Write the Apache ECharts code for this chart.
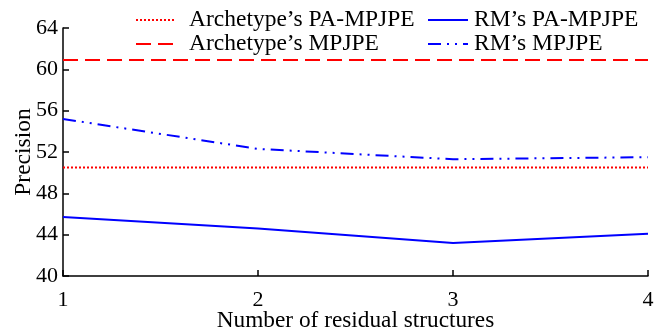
<!DOCTYPE html>
<html>
<head>
<meta charset="utf-8">
<script src="https://cdn.jsdelivr.net/npm/echarts@6/dist/echarts.min.js"></script>
<style>
  html, body { margin: 0; padding: 0; background: #fff; }
  #chart { width: 669px; height: 331px; }
</style>
</head>
<body>
<div id="chart"></div>
<script>
var xValues = [1, 2, 3, 4];
var archPaMpjpe = [50.5, 50.5, 50.5, 50.5];
var archMpjpe = [60.9, 60.9, 60.9, 60.9];
var rmPaMpjpe = [45.7, 44.6, 43.2, 44.1];
var rmMpjpe = [55.2, 52.3, 51.3, 51.5];

function pairs(vals) {
    return xValues.map(function (x, i) { return [x, vals[i]]; });
}

var font = 'Liberation Serif';

document.addEventListener('DOMContentLoaded', function () {
    var myChart = echarts.init(document.getElementById('chart'));
    myChart.setOption({
        animation: false,
        textStyle: { fontFamily: font, color: '#000' },
        grid: { left: 63, right: 21, top: 28, bottom: 55, outerBoundsMode: 'none', containLabel: false },
        legend: [
            {
                orient: 'vertical',
                left: 135,
                top: 8,
                padding: 0,
                itemWidth: 38,
                itemHeight: 14,
                itemGap: 0,
                itemStyle: { opacity: 0 },
                textStyle: { fontFamily: font, fontSize: 23.5, color: '#000', padding: [0, 0, 0, 10] },
                data: ["Archetype\u2019s PA-MPJPE", "Archetype\u2019s MPJPE"]
            },
            {
                orient: 'vertical',
                left: 427,
                top: 8,
                padding: 0,
                itemWidth: 40,
                itemHeight: 14,
                itemGap: 0,
                itemStyle: { opacity: 0 },
                textStyle: { fontFamily: font, fontSize: 23.5, color: '#000', padding: [0, 0, 0, 1] },
                data: ["RM\u2019s PA-MPJPE", "RM\u2019s MPJPE"]
            }
        ],
        xAxis: {
            type: 'value',
            min: 1,
            max: 4,
            interval: 1,
            name: 'Number of residual structures',
            nameLocation: 'middle',
            nameGap: 33.5,
            nameMoveOverlap: false,
            nameTextStyle: { fontFamily: font, fontSize: 23.3, color: '#000' },
            axisLine: { lineStyle: { color: '#000', width: 1.5 } },
            axisTick: { inside: true, length: 6, lineStyle: { color: '#000', width: 1.5 } },
            axisLabel: { fontFamily: font, fontSize: 22, color: '#000', margin: 13 },
            splitLine: { show: false }
        },
        yAxis: {
            type: 'value',
            min: 40,
            max: 64,
            interval: 4,
            name: 'Precision',
            nameLocation: 'middle',
            nameGap: 27,
            nameMoveOverlap: false,
            nameTextStyle: { fontFamily: font, fontSize: 23.5, color: '#000' },
            axisLine: { show: true, lineStyle: { color: '#000', width: 1.5 } },
            axisTick: { show: true, inside: true, length: 6, lineStyle: { color: '#000', width: 1.5 } },
            axisLabel: { fontFamily: font, fontSize: 22, color: '#000', margin: 5 },
            splitLine: { show: false }
        },
        series: [
            {
                name: "Archetype\u2019s PA-MPJPE",
                type: 'line',
                symbol: 'none',
                data: pairs(archPaMpjpe),
                lineStyle: { color: '#ff0000', width: 2, type: [2, 2] },
                itemStyle: { color: '#ff0000' }
            },
            {
                name: "Archetype\u2019s MPJPE",
                type: 'line',
                symbol: 'none',
                data: pairs(archMpjpe),
                lineStyle: { color: '#ff0000', width: 2, type: [15, 7] },
                itemStyle: { color: '#ff0000' }
            },
            {
                name: "RM\u2019s PA-MPJPE",
                type: 'line',
                symbol: 'none',
                data: pairs(rmPaMpjpe),
                lineStyle: { color: '#0000ff', width: 2 },
                itemStyle: { color: '#0000ff' }
            },
            {
                name: "RM\u2019s MPJPE",
                type: 'line',
                symbol: 'none',
                data: pairs(rmMpjpe),
                lineStyle: { color: '#0000ff', width: 2, type: [13, 6, 2, 6, 2, 6] },
                itemStyle: { color: '#0000ff' }
            }
        ]
    });
});
</script>
</body>
</html>
